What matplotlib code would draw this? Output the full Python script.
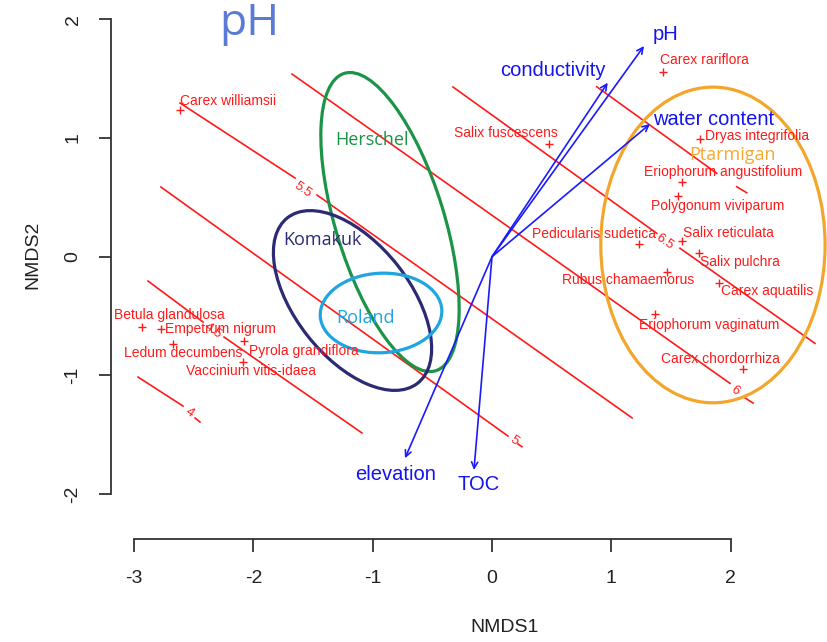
import matplotlib
matplotlib.use("Agg")
import matplotlib.pyplot as plt
from matplotlib.patches import Ellipse

# ---------------- data ----------------
species = ["Carex williamsii", "Salix fuscescens", "Carex rariflora", "Dryas integrifolia",
           "Eriophorum angustifolium", "Polygonum viviparum", "Pedicularis sudetica",
           "Salix reticulata", "Salix pulchra", "Rubus chamaemorus", "Carex aquatilis",
           "Eriophorum vaginatum", "Carex chordorrhiza", "Betula glandulosa",
           "Empetrum nigrum", "Ledum decumbens", "Pyrola grandiflora", "Vaccinium vitis-idaea"]
sp_x = [-2.615, 0.480, 1.433, 1.744, 1.595, 1.559, 1.235, 1.595, 1.733, 1.469, 1.905,
        1.366, 2.106, -2.936, -2.775, -2.676, -2.076, -2.090]
sp_y = [1.236, 0.949, 1.559, 0.992, 0.627, 0.511, 0.104, 0.132, 0.029, -0.131, -0.224,
        -0.483, -0.949, -0.595, -0.607, -0.735, -0.710, -0.885]
sp_lab_x = [-2.213, 0.117, 1.777, 2.221, 1.936, 1.894, 0.855, 1.978, 2.079, 1.140, 2.305,
            1.819, 1.911, -2.703, -2.272, -2.590, -1.579, -2.024]
sp_lab_y = [1.312, 1.042, 1.657, 1.017, 0.716, 0.430, 0.191, 0.200, -0.042, -0.196, -0.286,
            -0.575, -0.862, -0.491, -0.609, -0.811, -0.792, -0.960]

vectors = ["pH", "conductivity", "water content", "elevation", "TOC"]
vec_x = [1.274, 0.970, 1.324, -0.729, -0.151]
vec_y = [1.775, 1.466, 1.118, -1.698, -1.797]
vec_lab_x = [1.457, 0.507, 1.855, -0.805, -0.109]
vec_lab_y = [1.876, 1.567, 1.158, -1.839, -1.923]

groups = ["Herschel", "Komakuk", "Roland", "Ptarmigan"]
ell_cx = [-0.855, -1.169, -0.930, 1.852]
ell_cy = [0.292, -0.369, -0.474, 0.099]
ell_w = [2.62, 1.77, 1.02, 1.88]
ell_h = [0.91, 0.96, 0.67, 2.66]
ell_angle = [107, 128, 3, 0]
grp_lab_x = [-1.007, -1.421, -1.061, 2.016]
grp_lab_y = [0.983, 0.141, -0.519, 0.857]
grp_colors = ["#1b9447", "#2c2a74", "#1fa5df", "#f3a62c"]
grp_text_colors = ["#1b9447", "#2c2a74", "#1fa5df", "#f5a832"]

# contour lines of fitted pH surface: segments (x list, y list) per level
contour_levels = ["4", "4.5", "5", "5.5", "6", "6.5", "7"]
contour_segments = [
    [([-2.967, -2.590], [-1.014, -1.258]), ([-2.489, -2.448], [-1.359, -1.393])],
    [([-2.883, -2.422], [-0.205, -0.550]), ([-2.246, -1.090], [-0.677, -1.485])],
    [([-2.775, 0.134], [0.587, -1.511]), ([0.218, 0.251], [-1.578, -1.601])],
    [([-2.615, -1.651], [1.295, 0.663]), ([-1.467, 1.174], [0.520, -1.358])],
    [([-1.676, 1.995], [1.539, -1.067]), ([2.121, 2.188], [-1.190, -1.233])],
    [([-0.327, 1.381], [1.430, 0.197]), ([1.576, 2.707], [0.071, -0.730])],
    [([0.878, 1.884], [1.432, 0.703]), ([2.051, 2.135], [0.590, 0.539])],
]
contour_lab_x = [-2.540, -2.339, 0.184, -1.584, 2.037, 1.450, None]
contour_lab_y = [-1.317, -0.626, -1.553, 0.562, -1.131, 0.126, None]

x_ticks = [-3, -2, -1, 0, 1, 2]
y_ticks = [-2, -1, 0, 1, 2]

# ---------------- figure ----------------
W, H = 827, 642
fig = plt.figure(figsize=(W / 100, H / 100), dpi=100)
left_px, bottom_px = 110.7, 539.3
ax = fig.add_axes([left_px / W, (H - bottom_px) / H, (W - left_px) / W, bottom_px / H])
ax.set_xlim(-3.196, 2.808)
ax.set_ylim(-2.381, 2.163)
ax.patch.set_alpha(0)

for s in ["top", "right"]:
    ax.spines[s].set_visible(False)
for s in ["left", "bottom"]:
    ax.spines[s].set_linewidth(1.3)
    ax.spines[s].set_color("#333333")
ax.spines["bottom"].set_bounds(-3, 2)
ax.spines["left"].set_bounds(-2, 2)
ax.set_xticks(x_ticks)
ax.set_yticks(y_ticks)
ax.set_xticklabels([str(v) for v in x_ticks])
ax.set_yticklabels([str(v) for v in y_ticks], rotation=90, va="center")
ax.tick_params(direction="out", length=9, width=1.3, color="#333333",
               labelsize=14, labelcolor="#222222")
ax.tick_params(axis="x", pad=13)
ax.tick_params(axis="y", pad=12)
for lbl in ax.get_xticklabels() + ax.get_yticklabels():
    lbl.set_fontfamily("Liberation Sans")

fig.text(505 / W, 1 - 628 / H, "NMDS1", ha="center", va="center", fontsize=14,
         color="#222222", family="Liberation Sans")
fig.text(33 / W, 1 - 255 / H, "NMDS2", ha="center", va="center", fontsize=14,
         color="#222222", family="Liberation Sans", rotation=90)

# title
ax.text(-2.03, 1.96, "pH", ha="center", va="center", fontsize=32, color="#5b7ad6",
        family="Open Sans")

# contours
for segs, lvl, lx, ly in zip(contour_segments, contour_levels, contour_lab_x, contour_lab_y):
    for xs, ys in segs:
        ax.plot(xs, ys, color="#ff1a1a", lw=1.2, zorder=2, clip_on=False)
    if lx is not None:
        ax.text(lx, ly, lvl, ha="center", va="center", rotation=-35, fontsize=9.5,
                color="#ff1a1a", family="Liberation Sans", zorder=2)

# ellipses
for cx, cy, w, h, a, c in zip(ell_cx, ell_cy, ell_w, ell_h, ell_angle, grp_colors):
    ax.add_patch(Ellipse((cx, cy), w, h, angle=a, fill=False, edgecolor=c, lw=2.3,
                         zorder=3, clip_on=False))
for g, gx, gy, c in zip(groups, grp_lab_x, grp_lab_y, grp_text_colors):
    ax.text(gx, gy, g, ha="center", va="center", fontsize=13, color=c,
            family="Open Sans", zorder=4)

# species
ax.plot(sp_x, sp_y, linestyle="none", marker="+", markersize=6, mew=1,
        color="#ff1a1a", zorder=5)
for name, lx, ly in zip(species, sp_lab_x, sp_lab_y):
    ax.text(lx, ly, name, ha="center", va="center", fontsize=10, color="#ff1a1a",
            family="Liberation Sans", zorder=5)

# environmental vectors
for vx, vy in zip(vec_x, vec_y):
    ax.annotate("", xy=(vx, vy), xytext=(0, 0),
                arrowprops=dict(arrowstyle="->", color="#1a1aff", lw=1.2,
                                shrinkA=0, shrinkB=0, mutation_scale=11),
                zorder=6)
for name, lx, ly in zip(vectors, vec_lab_x, vec_lab_y):
    ax.text(lx, ly, name, ha="center", va="center", fontsize=14.5, color="#1414ee",
            family="Liberation Sans", zorder=6)

fig.savefig("out.png", dpi=100)
